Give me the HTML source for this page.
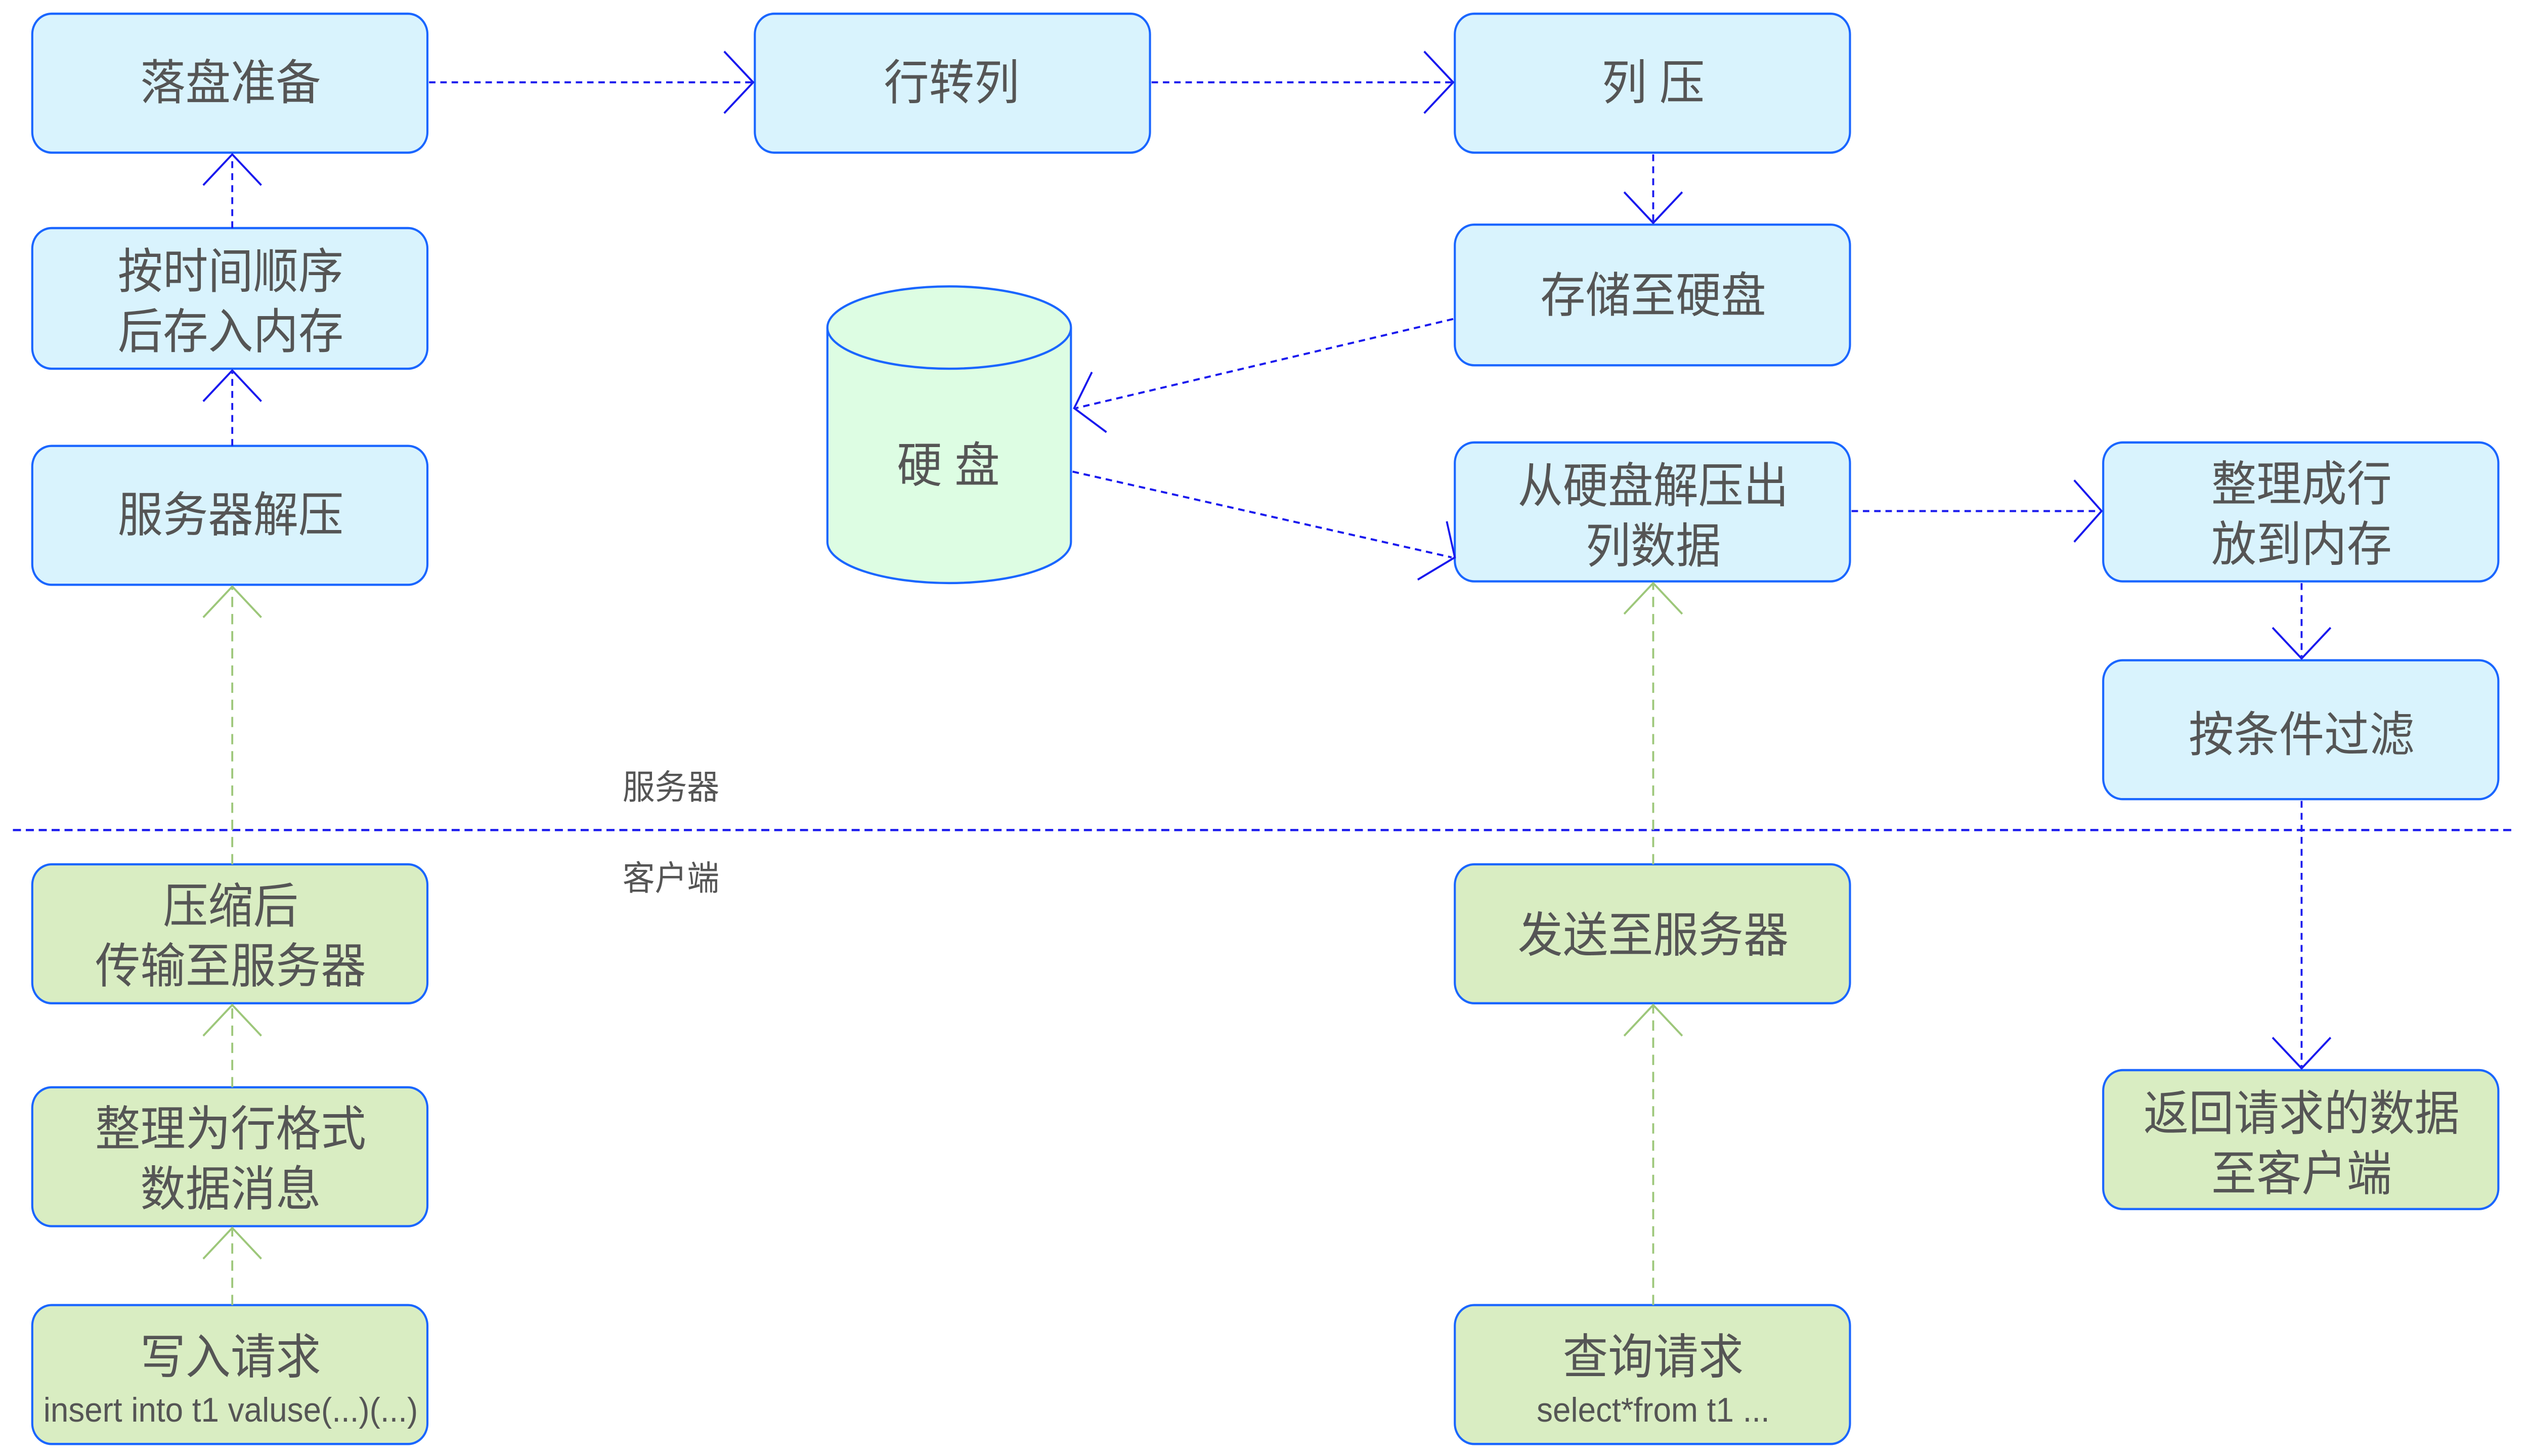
<!DOCTYPE html>
<html><head><meta charset="utf-8"><style>
html,body{margin:0;padding:0;background:#fff;overflow:hidden;width:100%;height:100%;}
svg{display:block;position:fixed;left:0;top:0;width:100vw;height:100vh;}
text{font-family:"Liberation Sans","Noto Sans CJK SC",sans-serif;fill:#555;}
</style></head><body>
<svg viewBox="0 0 1568 849" preserveAspectRatio="none" xmlns="http://www.w3.org/2000/svg">
<defs>
<style>
.b{fill:#d9f3fd;stroke:#1a66ff;stroke-width:1.3;}
.g{fill:#d9edc2;stroke:#1a66ff;stroke-width:1.3;}
.ab{stroke:#1a1aee;stroke-width:1.2;fill:none;stroke-dasharray:4,3;}
.ag{stroke:#9dc77a;stroke-width:1.2;fill:none;stroke-dasharray:6,4;}
.hb{stroke:#1a1aee;stroke-width:1.2;fill:none;}
.hg{stroke:#9dc77a;stroke-width:1.2;fill:none;}
.t{font-size:28px;text-anchor:middle;}
</style>
</defs>
<line x1="8" y1="484" x2="1560" y2="484" stroke="#1a1aee" stroke-width="1.3" stroke-dasharray="5,3"/>
<text x="386" y="466" style="font-size:20px">服务器</text>
<text x="386" y="519" style="font-size:20px">客户端</text>

<rect class="b" x="20" y="8" width="245" height="81" rx="12"/>
<text class="t" x="143" y="58">落盘准备</text>
<rect class="b" x="468" y="8" width="245" height="81" rx="12"/>
<text class="t" x="590" y="58">行转列</text>
<rect class="b" x="902" y="8" width="245" height="81" rx="12"/>
<text class="t" x="1025" y="58">列 压</text>
<rect class="b" x="20" y="133" width="245" height="82" rx="12"/>
<text class="t" x="143" y="168">按时间顺序</text>
<text class="t" x="143" y="203">后存入内存</text>
<rect class="b" x="902" y="131" width="245" height="82" rx="12"/>
<text class="t" x="1025" y="182">存储至硬盘</text>
<rect class="b" x="20" y="260" width="245" height="81" rx="12"/>
<text class="t" x="143" y="310">服务器解压</text>
<rect class="b" x="902" y="258" width="245" height="81" rx="12"/>
<text class="t" x="1025" y="293">从硬盘解压出</text>
<text class="t" x="1025" y="328">列数据</text>
<rect class="b" x="1304" y="258" width="245" height="81" rx="12"/>
<text class="t" x="1427" y="292">整理成行</text>
<text class="t" x="1427" y="327">放到内存</text>
<rect class="b" x="1304" y="385" width="245" height="81" rx="12"/>
<text class="t" x="1427" y="438">按条件过滤</text>

<rect class="g" x="20" y="504" width="245" height="81" rx="12"/>
<text class="t" x="143" y="538">压缩后</text>
<text class="t" x="143" y="573">传输至服务器</text>
<rect class="g" x="902" y="504" width="245" height="81" rx="12"/>
<text class="t" x="1025" y="555">发送至服务器</text>
<rect class="g" x="1304" y="624" width="245" height="81" rx="12"/>
<text class="t" x="1427" y="659">返回请求的数据</text>
<text class="t" x="1427" y="694">至客户端</text>
<rect class="g" x="20" y="634" width="245" height="81" rx="12"/>
<text class="t" x="143" y="668">整理为行格式</text>
<text class="t" x="143" y="703">数据消息</text>
<rect class="g" x="20" y="761" width="245" height="81" rx="12"/>
<text class="t" x="143" y="801">写入请求</text>
<text x="143" y="829" style="font-size:20px;text-anchor:middle">insert into t1 valuse(...)(...)</text>
<rect class="g" x="902" y="761" width="245" height="81" rx="12"/>
<text class="t" x="1025" y="801">查询请求</text>
<text x="1025" y="829" style="font-size:20px;text-anchor:middle">select*from t1 ...</text>

<path d="M513,191 L513,316 A75.5,24 0 0 0 664,316 L664,191" fill="#ddfde3" stroke="#1a66ff" stroke-width="1.3"/>
<ellipse cx="588.5" cy="191" rx="75.5" ry="24" fill="#ddfde3" stroke="#1a66ff" stroke-width="1.3"/>
<text class="t" x="588" y="281">硬 盘</text>

<line class="ab" x1="266" y1="48" x2="466" y2="48"/>
<polyline class="hb" points="449,30 467,48 449,66"/>
<line class="ab" x1="714" y1="48" x2="900" y2="48"/>
<polyline class="hb" points="883,30 901,48 883,66"/>
<line class="ab" x1="1025" y1="90" x2="1025" y2="129"/>
<polyline class="hb" points="1007,112 1025,130 1043,112"/>
<line class="ab" x1="901" y1="186" x2="667" y2="238"/>
<polyline class="hb" points="677,217 666,238 686,252"/>
<line class="ab" x1="665" y1="275" x2="900" y2="325"/>
<polyline class="hb" points="897,304 902,325 879,338"/>
<line class="ab" x1="1148" y1="298" x2="1302" y2="298"/>
<polyline class="hb" points="1286,280 1303,298 1286,316"/>
<line class="ab" x1="1427" y1="340" x2="1427" y2="383"/>
<polyline class="hb" points="1409,366 1427,384 1445,366"/>
<line class="ab" x1="1427" y1="467" x2="1427" y2="622"/>
<polyline class="hb" points="1409,605 1427,623 1445,605"/>
<line class="ab" x1="144" y1="133" x2="144" y2="91"/>
<polyline class="hb" points="126,108 144,90 162,108"/>
<line class="ab" x1="144" y1="260" x2="144" y2="217"/>
<polyline class="hb" points="126,234 144,216 162,234"/>

<line class="ag" x1="144" y1="504" x2="144" y2="343"/>
<polyline class="hg" points="126,360 144,342 162,360"/>
<line class="ag" x1="144" y1="634" x2="144" y2="587"/>
<polyline class="hg" points="126,604 144,586 162,604"/>
<line class="ag" x1="144" y1="761" x2="144" y2="717"/>
<polyline class="hg" points="126,734 144,716 162,734"/>
<line class="ag" x1="1025" y1="761" x2="1025" y2="587"/>
<polyline class="hg" points="1007,604 1025,586 1043,604"/>
<line class="ag" x1="1025" y1="504" x2="1025" y2="341"/>
<polyline class="hg" points="1007,358 1025,340 1043,358"/>
</svg>
</body></html>
